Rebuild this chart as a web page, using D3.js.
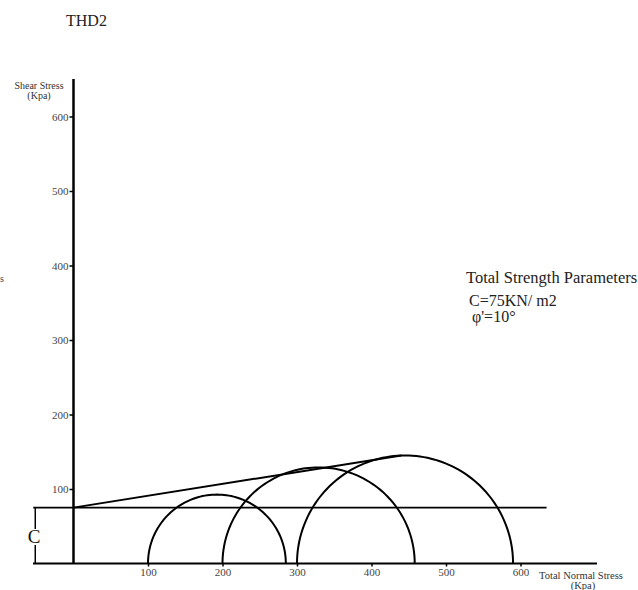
<!DOCTYPE html>
<html>
<head>
<meta charset="utf-8">
<script src="https://cdn.jsdelivr.net/npm/d3@7"></script>
<style>
  html, body { margin: 0; padding: 0; background: #fff; }
  svg { display: block; font-family: "Liberation Serif", "Times New Roman", serif; }
</style>
</head>
<body>
<svg id="chart" width="638" height="590"></svg>
<script>
// Mohr circles: confining (sigma3) and major principal (sigma1) stresses, kPa
const sigma3 = [100, 200, 300];
const sigma1 = [285, 458, 590];
// Strength envelope: cohesion intercept and end point of the drawn line
const cohesion = 75;
const envelopeEnd = [440, 145];
// Extent of the horizontal cohesion line along the normal-stress axis
const cohesionLineX = [-54, 635];
// Axis ticks
const xTicks = [100, 200, 300, 400, 500, 600];
const yTicks = [100, 200, 300, 400, 500, 600];
const legendLines = ["C=75KN/ m2", "φ'=10°"];

const svg = d3.select("#chart");

const x = d3.scaleLinear().domain([0, 100]).range([73.5, 148]);
const y = d3.scaleLinear().domain([0, 100]).range([563.5, 489]);

// Title
svg.append("text").attr("x", 66).attr("y", 26)
  .attr("font-size", 16).attr("fill", "#222").text("THD2");

// stray label fragment at the left edge
svg.append("text").attr("x", 0).attr("y", 282)
  .attr("font-size", 10).attr("fill", "#444").text("s");

// Y axis
const yAxis = d3.axisLeft(y).tickValues(yTicks).tickSize(4).tickPadding(1)
  .tickFormat(d3.format("d"));
const gy = svg.append("g").attr("transform", `translate(${x(0)},0)`).call(yAxis);
gy.select(".domain").remove();
gy.selectAll(".tick line").attr("stroke", "#000").attr("stroke-width", 1.5);
gy.selectAll(".tick text").attr("font-size", 11).attr("fill", "#444")
  .attr("font-family", "Liberation Serif, serif");
svg.append("line").attr("x1", x(0)).attr("x2", x(0)).attr("y1", 79).attr("y2", y(0))
  .attr("stroke", "#000").attr("stroke-width", 2.5);

// X axis
const xAxis = d3.axisBottom(x).tickValues(xTicks).tickSize(3).tickPadding(2)
  .tickFormat(d3.format("d"));
const gx = svg.append("g").attr("transform", `translate(0,${y(0)})`).call(xAxis);
gx.select(".domain").remove();
gx.selectAll(".tick line").attr("stroke", "#000").attr("stroke-width", 1.5);
gx.selectAll(".tick text").attr("font-size", 11).attr("fill", "#444")
  .attr("font-family", "Liberation Serif, serif");
svg.append("line").attr("x1", 33).attr("x2", 597).attr("y1", y(0)).attr("y2", y(0))
  .attr("stroke", "#000").attr("stroke-width", 2);

// Axis titles
const yt = svg.append("text").attr("text-anchor", "middle").attr("font-size", 10)
  .attr("fill", "#333");
yt.append("tspan").attr("x", 39).attr("y", 89).text("Shear Stress");
yt.append("tspan").attr("x", 39).attr("y", 99).text("(Kpa)");
const xt = svg.append("text").attr("text-anchor", "middle").attr("font-size", 10.5)
  .attr("fill", "#333");
xt.append("tspan").attr("x", 581).attr("y", 579).text("Total Normal Stress");
xt.append("tspan").attr("x", 583).attr("y", 589).text("(Kpa)");

// Mohr circles (upper halves)
const circles = sigma3.map((s3, i) => ({ c: (s3 + sigma1[i]) / 2, r: (sigma1[i] - s3) / 2 }));
svg.selectAll("path.mohr").data(circles).join("path")
  .attr("class", "mohr")
  .attr("fill", "none").attr("stroke", "#000").attr("stroke-width", 2)
  .attr("d", d => {
    const pts = d3.range(0, 181, 2).map(a => {
      const t = a * Math.PI / 180;
      return [x(d.c - d.r * Math.cos(t)), y(d.r * Math.sin(t))];
    });
    return d3.line()(pts);
  });

// Cohesion line
svg.append("line")
  .attr("x1", x(cohesionLineX[0])).attr("x2", x(cohesionLineX[1]))
  .attr("y1", y(cohesion)).attr("y2", y(cohesion))
  .attr("stroke", "#000").attr("stroke-width", 1.6);

// Failure envelope
svg.append("line")
  .attr("x1", x(0)).attr("y1", y(cohesion))
  .attr("x2", x(envelopeEnd[0])).attr("y2", y(envelopeEnd[1]))
  .attr("stroke", "#000").attr("stroke-width", 2);

// Cohesion bracket, broken around its "C" label
const bx = x(cohesionLineX[0]) + 2;
svg.append("line").attr("x1", bx).attr("x2", bx)
  .attr("y1", y(cohesion)).attr("y2", 529)
  .attr("stroke", "#000").attr("stroke-width", 1.5);
svg.append("line").attr("x1", bx).attr("x2", bx)
  .attr("y1", 545).attr("y2", y(0))
  .attr("stroke", "#000").attr("stroke-width", 1.5);
svg.append("text").attr("x", 34).attr("y", 543).attr("text-anchor", "middle")
  .attr("font-size", 19).attr("fill", "#111").text("C");

// Legend
svg.append("text").attr("x", 466).attr("y", 283).attr("font-size", 16.5)
  .attr("fill", "#222").text("Total Strength Parameters");
svg.selectAll("text.param").data(legendLines).join("text")
  .attr("class", "param")
  .attr("x", (d, i) => i === 0 ? 469 : 472)
  .attr("y", (d, i) => 306 + i * 16)
  .attr("font-size", 16).attr("fill", "#222").text(d => d);
</script>
</body>
</html>
